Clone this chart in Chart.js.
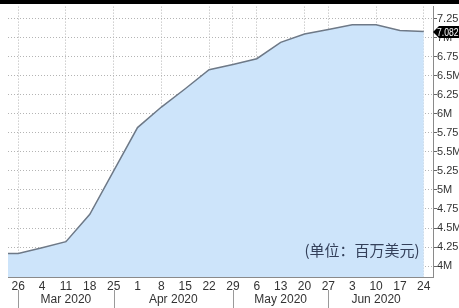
<!DOCTYPE html>
<html>
<head>
<meta charset="utf-8">
<script src="https://cdn.jsdelivr.net/npm/chart.js@4"></script>
<style>
  html, body { margin: 0; padding: 0; background: #fff; }
  #wrap { width: 459px; height: 308px; }
</style>
</head>
<body>
<div id="wrap"><canvas id="fedChart" width="459" height="308"></canvas></div>
<script>
// weekly balance sheet, millions of millions (M)
const dates = ["2020-02-19", "2020-02-26", "2020-03-04", "2020-03-11", "2020-03-18", "2020-03-25",
  "2020-04-01", "2020-04-08", "2020-04-15", "2020-04-22", "2020-04-29", "2020-05-06",
  "2020-05-13", "2020-05-20", "2020-05-27", "2020-06-03", "2020-06-10", "2020-06-17", "2020-06-24"];
const balance = [4.166, 4.166, 4.24, 4.32, 4.68, 5.25,
  5.82, 6.09, 6.33, 6.58, 6.65, 6.725,
  6.94, 7.05, 7.11, 7.17, 7.17, 7.095, 7.082];
const tickDates = ["2020-02-26", "2020-03-04", "2020-03-11", "2020-03-18", "2020-03-25",
  "2020-04-01", "2020-04-08", "2020-04-15", "2020-04-22", "2020-04-29", "2020-05-06",
  "2020-05-13", "2020-05-20", "2020-05-27", "2020-06-03", "2020-06-10", "2020-06-17", "2020-06-24"];
const gridDates = ["2020-02-26", "2020-03-11", "2020-03-25", "2020-04-08", "2020-04-22", "2020-04-29",
  "2020-05-06", "2020-05-20", "2020-05-27", "2020-06-10", "2020-06-24"];
const monthBreaks = ["2020-02-26", "2020-03-25", "2020-04-29", "2020-05-27"];
const monthEnd = "2020-06-24";
const monthLabels = ["Mar 2020", "Apr 2020", "May 2020", "Jun 2020"];
const yTicks = [4, 4.25, 4.5, 4.75, 5, 5.25, 5.5, 5.75, 6, 6.25, 6.5, 6.75, 7, 7.25];
const lastLabel = "7.082";
const unitNote = "(单位：百万美元)";

const base = Date.parse("2020-02-26");
const dayOf = (s) => (Date.parse(s) - base) / 86400000;
const tickDays = tickDates.map(dayOf);
const gridDays = gridDates.map(dayOf);

const labelFont = "'Liberation Sans', sans-serif";

const extras = {
  id: "extras",
  afterDraw(chart) {
    const c = chart.ctx;
    const xs = chart.scales.x;
    const ys = chart.scales.y;
    const area = chart.chartArea;
    c.save();
    // top black strip
    c.fillStyle = "#000";
    c.fillRect(0, 0, chart.width, 4);

    // month separators and labels
    c.strokeStyle = "#9a9a9a";
    c.lineWidth = 1;
    c.fillStyle = "#333";
    c.font = "12px " + labelFont;
    c.textAlign = "center";
    c.textBaseline = "middle";
    const breaks = monthBreaks.map((d) => xs.getPixelForValue(dayOf(d)));
    breaks.forEach((px) => {
      c.beginPath();
      c.moveTo(Math.round(px) + 0.5, 290);
      c.lineTo(Math.round(px) + 0.5, 308);
      c.stroke();
    });
    const ends = breaks.concat([xs.getPixelForValue(dayOf(monthEnd))]);
    monthLabels.forEach((m, i) => {
      c.fillText(m, (ends[i] + ends[i + 1]) / 2, 300);
    });

    // unit note
    c.fillStyle = "#34405a";
    c.font = "15px 'Noto Sans CJK SC', sans-serif";
    c.fillText(unitNote, 362, 250);

    // last value tag
    const ty = Math.round(ys.getPixelForValue(balance[balance.length - 1]));
    const bx = area.right + 3;
    c.fillStyle = "#000";
    c.beginPath();
    c.moveTo(area.right, ty);
    c.lineTo(bx + 3, ty - 6);
    c.lineTo(chart.width, ty - 6);
    c.lineTo(chart.width, ty + 6);
    c.lineTo(bx + 3, ty + 6);
    c.closePath();
    c.fill();
    c.fillStyle = "#fff";
    c.font = "11px " + labelFont;
    c.textAlign = "left";
    c.translate(bx + 1, ty + 0.5);
    c.scale(0.78, 1);
    c.fillText(lastLabel, 0, 0);
    c.restore();
  }
};

const ctx = document.getElementById("fedChart").getContext("2d");
new Chart(ctx, {
  type: "line",
  data: {
    datasets: [{
      data: dates.map((d, i) => ({ x: dayOf(d), y: balance[i] })),
      borderColor: "#6e7987",
      borderWidth: 1.5,
      backgroundColor: "#cde4fa",
      fill: "start",
      pointRadius: 0,
      tension: 0
    }]
  },
  options: {
    responsive: false,
    animation: false,
    events: [],
    layout: { padding: { left: 8, top: 5, right: 0, bottom: 0 } },
    plugins: { legend: { display: false }, tooltip: { enabled: false } },
    scales: {
      x: {
        type: "linear",
        min: -3,
        max: 121.7,
        afterBuildTicks: (s) => { s.ticks = tickDays.map((v) => ({ value: v })); },
        afterFit: (s) => { s.height = 31; },
        grid: {
          color: (c) => (c.tick && gridDays.includes(c.tick.value) ? "#b4b4b4" : "rgba(0,0,0,0)"),
          drawTicks: false
        },
        border: { color: "#8a8a8a", dash: [1, 2] },
        ticks: {
          autoSkip: false,
          maxRotation: 0,
          padding: 2,
          color: "#333",
          font: { family: labelFont, size: 12 },
          callback: (v) => new Date(base + v * 86400000).getUTCDate()
        }
      },
      y: {
        position: "right",
        min: 3.856,
        max: 7.41,
        afterBuildTicks: (s) => { s.ticks = yTicks.map((v) => ({ value: v })); },
        afterFit: (s) => { s.width = 26; },
        grid: { color: "#b4b4b4", tickLength: 4, tickColor: "#666" },
        border: { color: "#8a8a8a", dash: [1, 2] },
        ticks: {
          padding: 0,
          color: "#333",
          font: { family: labelFont, size: 11 },
          callback: (v) => v + "M"
        }
      }
    }
  },
  plugins: [extras]
});
</script>
</body>
</html>
